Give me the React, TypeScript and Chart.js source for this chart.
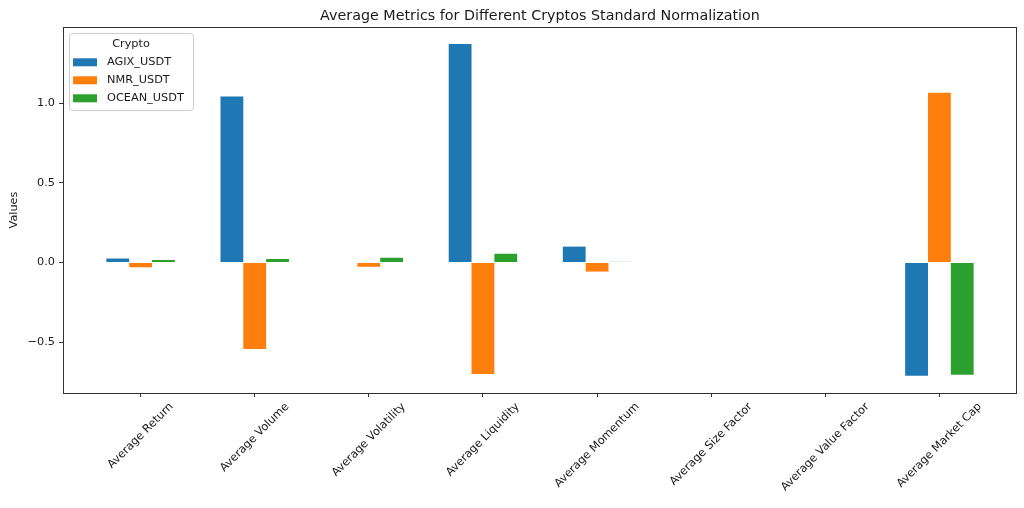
import React, { useEffect, useRef } from "react";
import { Chart, registerables } from "chart.js";

Chart.register(...registerables);

const categories = [
  "Average Return",
  "Average Volume",
  "Average Volatility",
  "Average Liquidity",
  "Average Momentum",
  "Average Size Factor",
  "Average Value Factor",
  "Average Market Cap",
];
const seriesNames = ["AGIX_USDT", "NMR_USDT", "OCEAN_USDT"];
const agixValues = [0.025, 1.043, 0.0, 1.373, 0.1, 0.0, 0.0, -0.711];
const nmrValues = [-0.03, -0.543, -0.027, -0.7, -0.057, 0.0, 0.0, 1.067];
const oceanValues = [0.016, 0.022, 0.03, 0.055, 0.004, 0.0, 0.0, -0.705];
const yTickValues = [-0.5, 0, 0.5, 1.0];
const colors = ["#1f77b4", "#ff7f0e", "#2ca02c"];

const TITLE = "Average Metrics for Different Cryptos Standard Normalization";
const Y_TITLE = "Values";
const LEGEND_TITLE = "Crypto";
const FONT = "'DejaVu Sans', sans-serif";
const TEXT = "#1a1a1a";
const SPINE = "#333333";

function fmtTick(v: number): string {
  const s = Math.abs(v).toFixed(1);
  return v < 0 ? "\u2212" + s : s;
}

const customPlugin = {
  id: "mplDecor",
  afterDraw(chart: any) {
    const ctx = chart.ctx;
    const a = chart.chartArea;
    ctx.save();
    // Spines
    ctx.strokeStyle = SPINE;
    ctx.lineWidth = 1;
    ctx.strokeRect(Math.round(a.left) + 0.5, Math.round(a.top) + 0.5, Math.round(a.right - a.left) - 1, Math.round(a.bottom - a.top));
    // Title
    ctx.fillStyle = TEXT;
    ctx.font = `14.3px ${FONT}`;
    ctx.textAlign = "center";
    ctx.textBaseline = "alphabetic";
    ctx.fillText(TITLE, (a.left + a.right) / 2, 20);
    // Y title
    ctx.save();
    ctx.translate(14, (a.top + a.bottom) / 2);
    ctx.rotate(-Math.PI / 2);
    ctx.font = `11.3px ${FONT}`;
    ctx.textAlign = "center";
    ctx.textBaseline = "middle";
    ctx.fillText(Y_TITLE, 0, 0);
    ctx.restore();
    // X tick labels (matplotlib rotation=45, ha=center)
    const xs = chart.scales.x;
    ctx.font = `11.3px ${FONT}`;
    ctx.textAlign = "center";
    ctx.textBaseline = "middle";
    const c45 = Math.cos(Math.PI / 4);
    const topY = a.bottom + 8;
    categories.forEach((lab, i) => {
      const px = xs.getPixelForValue(i);
      const w = ctx.measureText(lab).width;
      const h = 11;
      const half = ((w + h) / 2) * c45;
      ctx.save();
      ctx.translate(px, topY + half);
      ctx.rotate(-Math.PI / 4);
      ctx.fillText(lab, 0, 0);
      ctx.restore();
    });
    // Legend
    const lx = 69, ly = 33, lw = 124, lh = 77;
    ctx.fillStyle = "rgba(255,255,255,0.8)";
    ctx.strokeStyle = "#cccccc";
    ctx.lineWidth = 1;
    ctx.beginPath();
    if ((ctx as any).roundRect) (ctx as any).roundRect(lx + 0.5, ly + 0.5, lw, lh, 3);
    else ctx.rect(lx + 0.5, ly + 0.5, lw, lh);
    ctx.fill();
    ctx.stroke();
    ctx.fillStyle = TEXT;
    ctx.font = `11.3px ${FONT}`;
    ctx.textAlign = "center";
    ctx.textBaseline = "middle";
    ctx.fillText(LEGEND_TITLE, lx + lw / 2, 44);
    ctx.textAlign = "left";
    seriesNames.forEach((n, i) => {
      const cy = 62.3 + i * 18;
      ctx.fillStyle = colors[i];
      ctx.fillRect(73, cy - 4, 24, 8);
      ctx.fillStyle = TEXT;
      ctx.fillText(n, 107, cy);
    });
    ctx.restore();
  },
};

export default function App() {
  const ref = useRef<HTMLCanvasElement | null>(null);
  useEffect(() => {
    if (!ref.current) return;
    const mk = (vals: number[]) => vals.map((v, i) => ({ x: i, y: v }));
    const chart = new Chart(ref.current, {
      type: "bar",
      data: {
        datasets: [agixValues, nmrValues, oceanValues].map((vals, i) => ({
          label: seriesNames[i],
          data: mk(vals),
          backgroundColor: colors[i],
          borderWidth: 0,
          categoryPercentage: 0.6,
          barPercentage: 1.0,
        })),
      },
      options: {
        animation: false,
        responsive: false,
        maintainAspectRatio: false,
        layout: { padding: { left: 0, right: 7, top: 27, bottom: 0 } },
        plugins: {
          legend: { display: false },
          title: { display: false },
          tooltip: { enabled: false },
        },
        scales: {
          x: {
            type: "linear",
            min: -0.68,
            max: 7.68,
            offset: false,
            afterBuildTicks: (s: any) => {
              s.ticks = categories.map((_, i) => ({ value: i }));
            },
            afterFit: (s: any) => {
              s.height = 115;
            },
            border: { display: false },
            grid: {
              offset: false,
              drawOnChartArea: false,
              drawTicks: true,
              tickLength: 4,
              color: SPINE,
              tickColor: SPINE,
              lineWidth: 1,
            },
            ticks: { display: false },
          },
          y: {
            type: "linear",
            min: -0.82,
            max: 1.48,
            afterBuildTicks: (s: any) => {
              s.ticks = yTickValues.map((v) => ({ value: v }));
            },
            afterFit: (s: any) => {
              s.width = 63;
            },
            border: { display: false },
            grid: {
              drawOnChartArea: false,
              drawTicks: true,
              tickLength: 4,
              color: SPINE,
              tickColor: SPINE,
              lineWidth: 1,
            },
            ticks: {
              padding: 4,
              color: TEXT,
              font: { family: FONT, size: 11.3 },
              callback: (v: any) => fmtTick(Number(v)),
            },
          },
        },
      },
      plugins: [customPlugin],
    } as any);
    return () => chart.destroy();
  }, []);
  return (
    <div style={{ position: "absolute", left: 0, top: 0, width: 1024, height: 508, background: "#fff" }}>
      <canvas ref={ref} width={1024} height={508} style={{ width: 1024, height: 508, display: "block" }} />
    </div>
  );
}
